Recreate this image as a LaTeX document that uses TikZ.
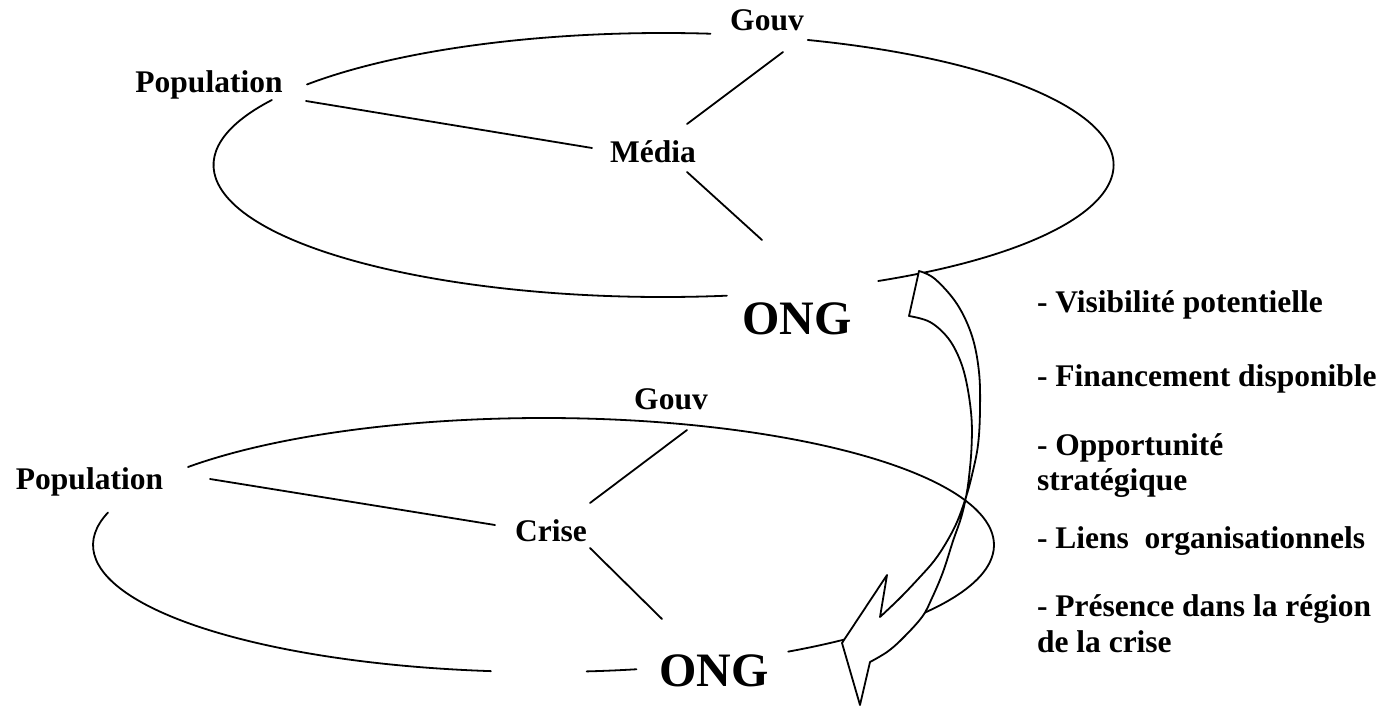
\documentclass[tikz,border=0pt]{standalone}
\usepackage{fontspec}
\setmainfont{Liberation Serif}
\usetikzlibrary{calc}
\begin{document}
\begin{tikzpicture}[x=1pt,y=-1pt,
  line cap=round, line join=round,
  lbl/.style={font=\bfseries\fontsize{31.5}{36}\selectfont, inner sep=0pt, outer sep=0pt, anchor=base},
  big/.style={font=\bfseries\fontsize{48}{54}\selectfont, inner sep=0pt, outer sep=0pt, anchor=base},
  item/.style={font=\bfseries\fontsize{31.5}{36}\selectfont, inner sep=0pt, outer sep=0pt, anchor=base west},
  ring/.style={line width=1.8pt},
  link/.style={line width=1.8pt},
  blockarrow/.style={line width=1.8pt, fill=white}]
\useasboundingbox (0,0) rectangle (1393,706);

% ---- labels of the upper field ----
\node[lbl] (gouv1) at (767,31) {Gouv};
\node[lbl] (pop1) at (209,93) {Population};
\node[lbl] (media) at (653,163) {Média};
\node[big] (ong1) at (797,334) {ONG};

% ---- labels of the lower field ----
\node[lbl] (gouv2) at (671,409) {Gouv};
\node[lbl] (pop2) at (89.5,489) {Population};
\node[lbl] (crise) at (551,541) {Crise};
\node[big] (ong2) at (714,686) {ONG};

% ---- list of factors ----
\node[item] (f1) at (1037,312) {- Visibilité potentielle};
\node[item] (f2) at (1037,386) {- Financement disponible};
\node[item] (f3) at (1037,455) {- Opportunité};
\node[item] (f3b) at (1037,490) {stratégique};
\node[item] (f4) at (1037,548) {- Liens\ \ organisationnels};
\node[item] (f5) at (1037,616) {- Présence dans la région};
\node[item] (f5b) at (1037,652) {de la crise};

% ---- ellipse centres ----
\coordinate (E1) at (663.5,165);
\coordinate (E2) at (543.5,545);

% upper ellipse, open where the labels sit
\draw[ring] (E1) ++(-71.3:450 and 132) arc[start angle=-71.3, end angle=61.5, x radius=450, y radius=132];
\draw[ring] (E1) ++(81.9:450 and 132) arc[start angle=81.9, end angle=209.5, x radius=450, y radius=132];
\draw[ring] (E1) ++(217.6:450 and 132) arc[start angle=217.6, end angle=276, x radius=450, y radius=132];

% lower ellipse
\draw[ring] (E2) ++(217.9:450.5 and 127) arc[start angle=217.9, end angle=417.1, x radius=450.5, y radius=127];
\draw[ring] (E2) ++(78.1:450.5 and 127) arc[start angle=78.1, end angle=84.5, x radius=450.5, y radius=127];
\draw[ring] (E2) ++(96.7:450.5 and 127) arc[start angle=96.7, end angle=194.8, x radius=450.5, y radius=127];

% ---- links of the upper field ----
\draw[link] ($(pop1.base)+(97,8)$) -- ($(media.base)+(-61,-15)$);
\draw[link] ($(gouv1.base)+(16,21)$) -- ($(media.base)+(34,-39)$);
\draw[link] ($(media.base)+(34,9)$) -- ($(ong1.base)+(-35,-94)$);

% ---- links of the lower field ----
\draw[link] ($(pop2.base)+(120.5,-10)$) -- ($(crise.base)+(-56,-16)$);
\draw[link] ($(gouv2.base)+(16,21)$) -- ($(crise.base)+(39,-38)$);
\draw[link] ($(crise.base)+(39,7)$) -- ($(ong2.base)+(-52,-67)$);

% ---- curved block arrow from the upper ONG down to the lower one ----
\coordinate (T1) at (919,271);
\coordinate (T2) at (909,316);
\coordinate (X) at (966,497);
\coordinate (N) at (880,617);
\coordinate (P) at (887,575);
\coordinate (B) at (842,643);
\coordinate (tip) at (860,705);
\coordinate (R) at (870,662);
\draw[blockarrow] plot[smooth, tension=0.6] coordinates {(T1) (935,279) (957,304) (972,336) (979,372) (980,410) (978,445) (972,475) (X) (957,522) (946,543) (934,561) (919,578) (900,598) (N)}
  -- (P) -- (B) -- (tip) -- (R)
  -- plot[smooth, tension=0.6] coordinates {(R) (887,652) (902,639) (922,617) (932,598) (943,572) (953,541) (961,518) (X) (969,477) (971.5,448) (971.5,418) (967,385) (960,360) (948,338) (930,322) (T2)}
  -- cycle;
\end{tikzpicture}
\end{document}
